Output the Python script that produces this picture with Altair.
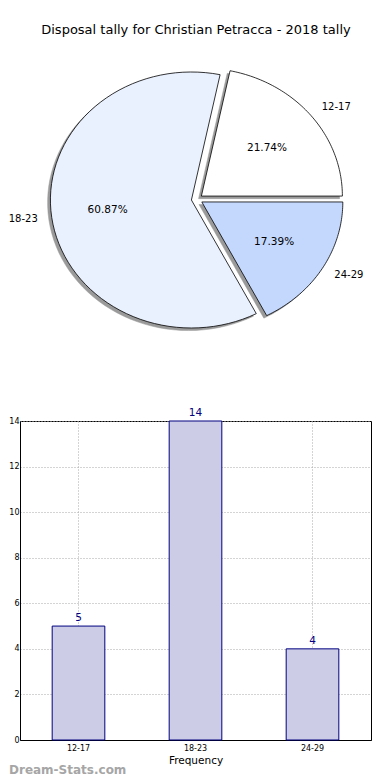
import altair as alt
import pandas as pd

# ---------------- data ----------------
categories = ["12-17", "18-23", "24-29"]
counts = [5, 14, 4]
pie_colors = ["#ffffff", "#eaf1fe", "#c4d8fe"]
title_text = "Disposal tally for Christian Petracca - 2018 tally"
x_title = "Frequency"
y_ticks = [0, 2, 4, 6, 8, 10, 12, 14]
watermark = "Dream-Stats.com"

df = pd.DataFrame({"cat": categories, "n": counts, "idx": [0, 1, 2]})
df_title = pd.DataFrame({"t": [title_text]})
df_wm = pd.DataFrame({"t": [watermark]})

# ---------------- pie geometry (matplotlib-like) ----------------
E = 0.04        # explode
N = 72          # arc resolution
SH = 0.02       # shadow offset
PW, PH = 351, 413
CXV, CYV = 177, 191.3
RX, RY = 141, 128
xdom = [-CXV / RX, (PW - CXV) / RX]
ydom = [-(PH - CYV) / RY, CYV / RY]
xs = alt.Scale(domain=xdom, nice=False, zero=False)
ys = alt.Scale(domain=ydom, nice=False, zero=False)

base_pie = (
    alt.Chart(df)
    .transform_window(cum="sum(n)", sort=[alt.SortField("idx")], frame=[None, 0])
    .transform_joinaggregate(total="sum(n)")
    .transform_calculate(
        a0="2*PI*(datum.cum - datum.n)/datum.total",
        a1="2*PI*datum.cum/datum.total",
    )
    .transform_calculate(
        mid="(datum.a0 + datum.a1)/2",
        pct="format(100*datum.n/datum.total, '.2f') + '%'",
    )
)

poly = (
    base_pie.transform_calculate(pts=f"sequence(-1, {N + 1})")
    .transform_flatten(["pts"])
    .transform_calculate(
        th=f"datum.a0 + (datum.a1 - datum.a0)*max(datum.pts, 0)/{N}"
    )
    .transform_calculate(
        px=f"{E}*cos(datum.mid) + (datum.pts < 0 ? 0 : cos(datum.th))",
        py=f"{E}*sin(datum.mid) + (datum.pts < 0 ? 0 : sin(datum.th))",
    )
    .transform_calculate(spx=f"datum.px - {SH}", spy=f"datum.py - {SH}")
)

shadow = poly.mark_line(
    interpolate="linear-closed", fill="#9a9a9a", stroke="#9a9a9a", strokeWidth=0.5
).encode(
    x=alt.X("spx:Q", scale=xs, axis=None),
    y=alt.Y("spy:Q", scale=ys, axis=None),
    detail="cat:N",
    order="pts:Q",
)

wedges = poly.mark_line(
    interpolate="linear-closed", stroke="black", strokeWidth=0.8
).encode(
    x=alt.X("px:Q", scale=xs, axis=None),
    y=alt.Y("py:Q", scale=ys, axis=None),
    fill=alt.Fill("cat:N", scale=alt.Scale(domain=categories, range=pie_colors), legend=None),
    detail="cat:N",
    order="pts:Q",
)

lab = base_pie.transform_calculate(
    lx=f"({E}+1.1)*cos(datum.mid)",
    ly=f"({E}+1.1)*sin(datum.mid)",
    qx=f"({E}+0.6)*cos(datum.mid)",
    qy=f"({E}+0.6)*sin(datum.mid)",
)
lab_right = lab.transform_filter("cos(datum.mid) > 0").mark_text(
    align="left", baseline="middle", fontSize=10, color="black"
).encode(x=alt.X("lx:Q", scale=xs, axis=None), y=alt.Y("ly:Q", scale=ys, axis=None), text="cat:N")
lab_left = lab.transform_filter("cos(datum.mid) <= 0").mark_text(
    align="right", baseline="middle", fontSize=10, color="black"
).encode(x=alt.X("lx:Q", scale=xs, axis=None), y=alt.Y("ly:Q", scale=ys, axis=None), text="cat:N")
pcts = lab.mark_text(align="center", baseline="middle", fontSize=10.5, color="black").encode(
    x=alt.X("qx:Q", scale=xs, axis=None), y=alt.Y("qy:Q", scale=ys, axis=None), text="pct:N"
)

title = alt.Chart(df_title).mark_text(
    align="center", baseline="middle", fontSize=13, color="black"
).encode(x=alt.value(CXV - 1), y=alt.value(22), text="t:N")

pie = alt.layer(shadow, wedges, lab_right, lab_left, pcts, title).properties(
    width=PW, height=PH, view=alt.ViewBackground(stroke=None)
)

# ---------------- bar chart ----------------
BH = 319
bx = alt.X(
    "cat:N",
    sort=categories,
    scale=alt.Scale(domain=categories, paddingInner=0.55, paddingOuter=0.275),
    axis=alt.Axis(
        title=x_title, labelAngle=0, labelFontSize=8, labelColor="black", ticks=False,
        labelPadding=4, titleFontSize=10.5, titleFontWeight="normal", titleColor="black",
        titlePadding=3, grid=True, gridDash=[1, 2], gridColor="#a8a8a8", bandPosition=0.5,
        domainColor="black",
    ),
)
by = alt.Y(
    "n:Q",
    scale=alt.Scale(domain=[0, 14], nice=False),
    axis=alt.Axis(
        values=y_ticks, title=None, labelFontSize=8, labelColor="black", ticks=False,
        labelPadding=1, grid=True, gridDash=[1, 2], gridColor="#a8a8a8", domainColor="black",
    ),
)
bbase = alt.Chart(df).encode(x=bx, y=by)
bars = bbase.mark_bar(fill="#ccccE6", stroke="#000080", strokeWidth=1)
btext = bbase.mark_text(dy=-3, baseline="bottom", color="#000080", fontSize=10.5).encode(text="n:Q")
wm = alt.Chart(df_wm).mark_text(
    align="left", baseline="middle", fontSize=12, fontWeight="bold", color="#a6a6a6"
).encode(x=alt.value(-11), y=alt.value(BH + 30), text="t:N")

barchart = alt.layer(bars, btext, wm).properties(
    width=351, height=BH, view=alt.ViewBackground(stroke="black", strokeWidth=1)
)

chart = (
    alt.vconcat(pie, barchart, spacing=0, bounds="flush")
    .properties(padding=0)
    .configure(font="DejaVu Sans")
    .configure_view(stroke=None)
)

chart.save("out.html", embed_options={"renderer": "svg", "actions": False})
